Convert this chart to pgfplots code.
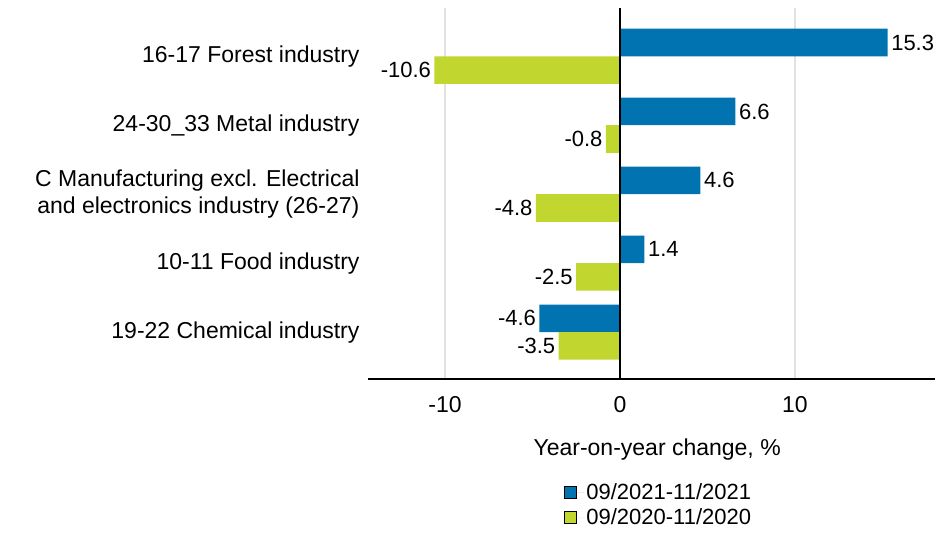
\documentclass[border=0pt]{standalone}
\usepackage{fontspec}
\setmainfont{Liberation Sans}
\usepackage{pgfplots}
\pgfplotsset{compat=1.18}
\definecolor{cblue}{RGB}{0,115,176}
\definecolor{cgreen}{RGB}{193,214,47}
\definecolor{cgrid}{RGB}{226,226,226}
\begin{document}
\begin{tikzpicture}
\useasboundingbox (-368pt,-154pt) rectangle (570pt,379pt);
\begin{axis}[
  at={(0pt,0pt)}, anchor=south west,
  scale only axis, width=567pt, height=371pt,
  xbar, bar width=0.4,
  xmin=-14.4, xmax=18.0,
  ymin=-0.70, ymax=4.68, y dir=reverse,
  ytick={0,1,2,3,4},
  yticklabels={16-17 Forest industry, 24-30\_33 Metal industry, {C Manufacturing excl. Electrical\\and electronics industry (26-27)}, 10-11 Food industry, 19-22 Chemical industry},
  yticklabel style={align=right, font=\fontsize{23}{27}\selectfont, xshift=-5pt},
  xtick={-10,0,10},
  xticklabel style={font=\fontsize{23}{27}\selectfont, yshift=-14pt},
  /pgf/number format/assume math mode=true,
  major tick length=0pt,
  axis x line*=bottom,
  axis y line*=left,
  y axis line style={draw=none},
  x axis line style={line width=1.5pt, black},
  xmajorgrids, grid style={cgrid, line width=1.5pt},
  xlabel={Year-on-year change, \%},
  xlabel style={at={(axis description cs:0.51,-0.19)}, anchor=center, font=\fontsize{23}{27}\selectfont},
  nodes near coords={\pgfmathprintnumber[fixed,fixed zerofill,precision=1,assume math mode=true]{\pgfplotspointmeta}},
  nodes near coords style={font=\fontsize{22}{26}\selectfont, black},
  legend style={at={(axis description cs:0.34,-0.27)}, anchor=north west, draw=none, fill=none, font=\fontsize{22}{26}\selectfont, row sep=4pt},
  legend cell align=left,
  legend image code/.code={\draw[#1, draw=black, line width=0.8pt] (0pt,-6pt) rectangle (12pt,6pt); \path (0pt,0pt) -- (20pt,0pt);},
]
\addplot[fill=cblue, draw=none, bar shift=-0.2] coordinates {(15.3,0) (6.6,1) (4.6,2) (1.4,3) (-4.6,4)};
\addlegendentry{09/2021-11/2021}
\addplot[fill=cgreen, draw=none, bar shift=0.2] coordinates {(-10.6,0) (-0.8,1) (-4.8,2) (-2.5,3) (-3.5,4)};
\addlegendentry{09/2020-11/2020}
\draw[black, line width=1.5pt] (axis cs:0,-0.70) -- (axis cs:0,4.68);
\end{axis}
\end{tikzpicture}
\end{document}
